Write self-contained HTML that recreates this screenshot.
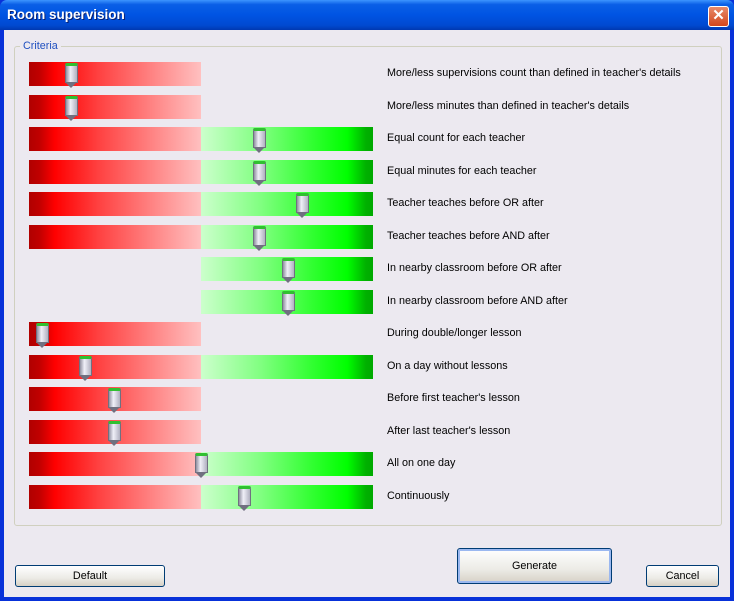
<!DOCTYPE html><html><head><style>
body{margin:0;width:734px;height:601px;overflow:hidden;font-family:"Liberation Sans",sans-serif;font-size:10.8px;}
.win{position:absolute;left:0;top:0;width:734px;height:601px;background:#0831d9;}
.title{position:absolute;left:0;top:0;width:734px;height:30px;background:linear-gradient(#3d95ff 0%,#0a5fe6 15%,#0054e3 50%,#0049d0 85%,#0038b0 100%);border-radius:7px 7px 0 0;}
.title span{position:absolute;left:7px;top:7px;color:#fff;font-weight:bold;font-size:13.5px;text-shadow:1px 1px #0a1e6e;}
.close{position:absolute;left:708px;top:6px;width:19px;height:19px;border:1px solid #fff;border-radius:3px;background:linear-gradient(#e88a6a,#d2461c);color:#fff;font-weight:bold;font-size:15px;text-align:center;line-height:18px;}
.body{position:absolute;left:4px;top:30px;width:726px;height:567px;background:#ece9f0;}
.group{position:absolute;left:14px;top:46px;width:706px;height:478px;border:1px solid #d0d0bf;border-radius:3px;}
.glabel{position:absolute;left:20px;top:40px;background:#ece9f0;color:#2050c0;padding:0 3px;}
.red{position:absolute;left:29px;width:172px;height:24px;background:linear-gradient(90deg,#b00000 0%,#c00000 6%,#ff0000 15%,#ff4040 40%,#ff8080 70%,#ffc0c0 100%);}
.green{position:absolute;left:201px;width:172px;height:24px;background:linear-gradient(90deg,#ccffcc 0%,#80ff80 35%,#30ff30 65%,#00ff00 85%,#00b000 96%,#00aa00 100%);}
.th{position:absolute;width:11px;height:16px;background:linear-gradient(90deg,#9090a0,#f0f0f8 40%,#b0b0c0);border:1px solid #707080;border-top:3px solid #30c030;border-radius:2px 2px 0 0;}
.th:after{content:"";position:absolute;left:-1px;top:16px;border-left:6.5px solid transparent;border-right:6.5px solid transparent;border-top:6px solid #707080;}
.lab{position:absolute;left:387px;color:#000;}
.btn{position:absolute;border:1px solid #003c74;border-radius:3px;background:linear-gradient(#fff,#ecebe6 60%,#d6d0c5);text-align:center;color:#000;}
</style></head><body>
<div class="win">
<div class="title"><span>Room supervision</span><div class="close">✕</div></div>
<div class="body"></div>
<div class="group"></div>
<div class="glabel">Criteria</div>
<div id="rows"></div>
<div class="btn" style="left:15px;top:565px;width:148px;height:20px;line-height:20px">Default</div>
<div class="btn" style="left:457px;top:548px;width:153px;height:34px;line-height:34px;box-shadow:inset 0 0 0 2px #9bb8f0">Generate</div>
<div class="btn" style="left:646px;top:565px;width:71px;height:20px;line-height:20px">Cancel</div>
</div>
<script>
var d=[["More/less supervisions count than defined in teacher's details",1,0,71],
["More/less minutes than defined in teacher's details",1,0,71],
["Equal count for each teacher",1,1,259],["Equal minutes for each teacher",1,1,259],
["Teacher teaches before OR after",1,1,302],["Teacher teaches before AND after",1,1,259],
["In nearby classroom before OR after",0,1,288],["In nearby classroom before AND after",0,1,288],
["During double/longer lesson",1,0,42],["On a day without lessons",1,1,85],
["Before first teacher's lesson",1,0,114],["After last teacher's lesson",1,0,114],
["All on one day",1,1,201],["Continuously",1,1,244]];
var h="";d.forEach(function(r,i){var c=73+i*32.5,t=Math.round(c-11);
if(r[1])h+='<div class="red" style="top:'+t+'px"></div>';
if(r[2])h+='<div class="green" style="top:'+t+'px"></div>';
h+='<div class="th" style="left:'+(r[3]-6)+'px;top:'+(t+1)+'px"></div>';
h+='<div class="lab" style="top:'+(t+5)+'px">'+r[0]+'</div>';});
document.getElementById("rows").innerHTML=h;
</script>
</body></html>
